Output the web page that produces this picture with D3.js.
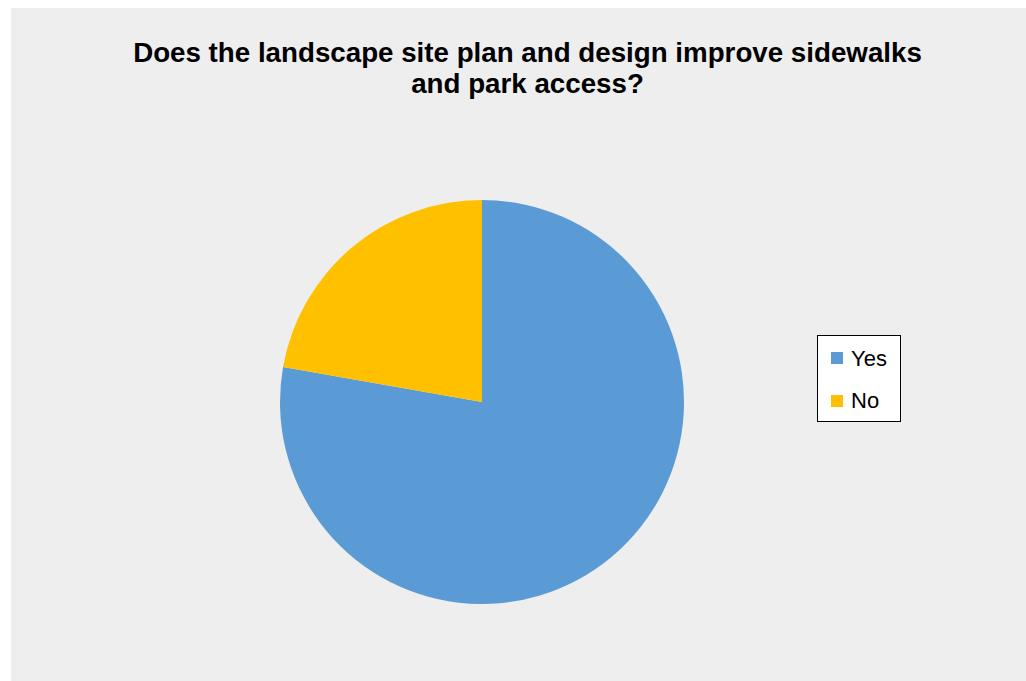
<!DOCTYPE html>
<html><head><meta charset="utf-8">
<script src="https://cdn.jsdelivr.net/npm/d3@7"></script>
<style>html,body{margin:0;padding:0;background:#fff;}svg{display:block;}</style>
</head><body>
<svg id="c" width="1026" height="681"></svg>
<script>
const categories = ["Yes", "No"];
const values = [7, 2];
const colors = ["#5B9BD5", "#FFC000"];
const titleLines = ["Does the landscape site plan and design improve sidewalks", "and park access?"];

const svg = d3.select("#c");
svg.append("rect").attr("x", 11).attr("y", 8).attr("width", 1015).attr("height", 673).attr("fill", "#EEEEEE");

const title = svg.append("g");
titleLines.forEach((t, i) => {
  title.append("text").attr("x", 527.5).attr("y", 62 + i * 31)
    .attr("text-anchor", "middle")
    .attr("font-family", "Liberation Sans, Arial, sans-serif")
    .attr("font-weight", "bold").attr("font-size", 23)
    .attr("fill", "#000").text(t);
});
// fit first line width to ~789px
const t0 = title.select("text").node();
const w = t0.getComputedTextLength();
const fs = 23 * 789 / w;
title.selectAll("text").attr("font-size", fs);

const data = categories.map((c, i) => ({ cat: c, v: values[i], col: colors[i] }));
const pie = d3.pie().value(d => d.v).sort(null);
const arc = d3.arc().innerRadius(0).outerRadius(202);
const g = svg.append("g").attr("transform", "translate(482,402)");
g.selectAll("path").data(pie(data)).join("path")
  .attr("d", arc).attr("fill", d => d.data.col);

const lg = svg.append("g");
lg.append("rect").attr("x", 817.5).attr("y", 335.5).attr("width", 83).attr("height", 86)
  .attr("fill", "#fff").attr("stroke", "#000").attr("stroke-width", 1);
data.forEach((d, i) => {
  lg.append("rect").attr("x", 831).attr("y", 352 + i * 43).attr("width", 12).attr("height", 12).attr("fill", d.col);
  lg.append("text").attr("x", 851).attr("y", 366 + i * 42)
    .attr("font-family", "Liberation Sans, Arial, sans-serif").attr("font-size", 22)
    .attr("fill", "#000").text(d.cat);
});
</script>
</body></html>
